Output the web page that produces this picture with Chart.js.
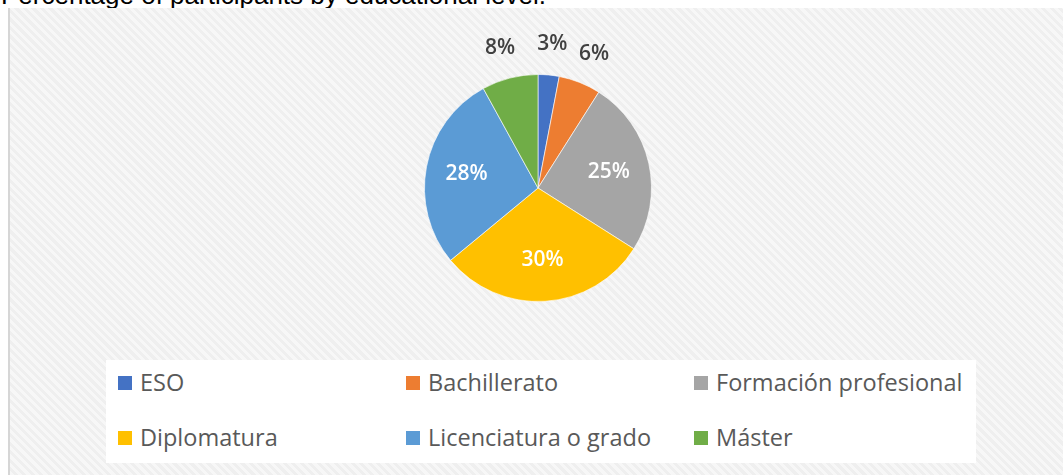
<!DOCTYPE html>
<html>
<head>
<meta charset="utf-8">
<script src="https://cdn.jsdelivr.net/npm/chart.js@4.4.1/dist/chart.umd.min.js"></script>
<style>
  html, body { margin: 0; padding: 0; width: 1063px; height: 475px; overflow: hidden; background: #fff; }
  #title {
    position: absolute; left: 1px; top: -20px;
    font-family: "Liberation Sans", Arial, sans-serif; font-size: 26px; color: #000;
    white-space: nowrap;
  }
  #frame {
    position: absolute; left: 8px; top: 8px; width: 1055px; height: 467px;
    border-left: 2px solid #d6d6d6;
    background: repeating-linear-gradient(45deg, #f7f7f7 0px, #f7f7f7 3px, #efefef 3px, #efefef 6px);
  }
  #legendBox {
    position: absolute; left: 106px; top: 360px; width: 870px; height: 103px;
    background: #fff;
  }
  #legend {
    position: absolute; left: 118px; top: 365px;
    font-family: "Open Sans", sans-serif; font-size: 23.5px; color: #595959;
  }
  .item { position: absolute; white-space: nowrap; line-height: 34px; }
  .sw { display: inline-block; width: 14px; height: 14px; margin-right: 8px; vertical-align: 1px; }
  canvas { position: absolute; left: 0; top: 0; }
</style>
</head>
<body>
<div id="title">Percentage of participants by educational level.</div>
<div id="frame"></div>
<div id="legendBox"></div>
<div id="legend"></div>
<canvas id="pie" width="1063" height="475"></canvas>
<script>
const categories = ['ESO', 'Bachillerato', 'Formación profesional', 'Diplomatura', 'Licenciatura o grado', 'Máster'];
const percentages = [3, 6, 25, 30, 28, 8];
const colors = ['#4472c4', '#ed7d31', '#a5a5a5', '#ffc000', '#5b9bd5', '#70ad47'];
const outsideLabels = [true, true, false, false, false, true];

// percentage labels, inside (white) or just outside (dark)
const sliceLabels = {
    id: 'sliceLabels',
    afterDatasetsDraw(chart) {
        const ctx = chart.ctx;
        const meta = chart.getDatasetMeta(0);
        ctx.save();
        ctx.font = '600 21px "Open Sans", sans-serif';
        ctx.textAlign = 'center';
        ctx.textBaseline = 'middle';
        meta.data.forEach((arc, i) => {
            const txt = percentages[i] + '%';
            const mid = (arc.startAngle + arc.endAngle) / 2;
            let x, y;
            if (outsideLabels[i]) {
                const r = arc.outerRadius + 31;
                const half = ctx.measureText(txt).width / 2;
                x = arc.x + Math.cos(mid) * (r + half * 0.5);
                y = arc.y + Math.sin(mid) * r;
                ctx.fillStyle = '#404040';
            } else {
                const r = arc.outerRadius * 0.64;
                x = arc.x + Math.cos(mid) * r;
                y = arc.y + Math.sin(mid) * r;
                ctx.fillStyle = '#ffffff';
            }
            ctx.fillText(txt, x, y);
        });
        ctx.restore();
    }
};

const chart = new Chart(document.getElementById('pie').getContext('2d'), {
    type: 'pie',
    data: {
        labels: categories,
        datasets: [{
            data: percentages,
            backgroundColor: colors,
            borderColor: 'rgba(255,255,255,0.6)',
            borderWidth: 1
        }]
    },
    options: {
        responsive: false,
        animation: false,
        layout: { padding: { left: 13, right: 0, top: 74, bottom: 173 } },
        plugins: {
            legend: { display: false },
            tooltip: { enabled: false }
        }
    },
    plugins: [sliceLabels]
});

// legend, three columns by two rows
const legend = document.getElementById('legend');
chart.data.labels.forEach((name, i) => {
    const el = document.createElement('div');
    el.className = 'item';
    el.style.left = (i % 3) * 288 + 'px';
    el.style.top = Math.floor(i / 3) * 55 + 'px';
    el.innerHTML = '<span class="sw" style="background:' + colors[i] + '"></span>' + name;
    legend.appendChild(el);
});
</script>
</body>
</html>
